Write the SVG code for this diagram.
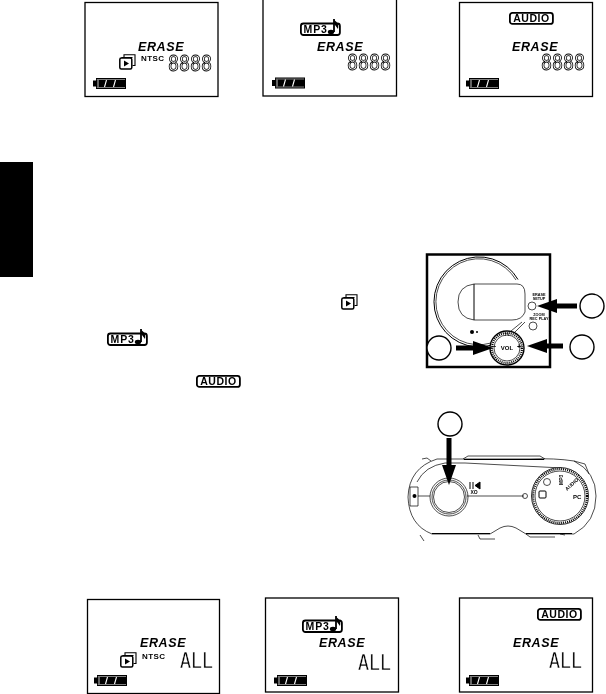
<svg xmlns="http://www.w3.org/2000/svg" width="606" height="694" viewBox="0 0 606 694">
<style>
.lcd{fill:#fff;stroke:#000;stroke-width:1.3}
.er{font:italic bold 12.5px "Liberation Sans",Arial,sans-serif;letter-spacing:.6px}
.nt{font:bold 8px "Liberation Sans",Arial,sans-serif;letter-spacing:.4px}
.seg{font:20.500px "DejaVu Sans Mono",monospace;fill:#fff;stroke:#000;stroke-width:.9}
.seg2{font:21px "DejaVu Sans Mono",monospace;fill:#000;stroke:#fff;stroke-width:.3}
.t{font:bold 3.800px "Liberation Sans",Arial,sans-serif}
.l{fill:none;stroke:#000;stroke-width:.7}
.m{fill:none;stroke:#000;stroke-width:1.2}
.c{fill:#fff;stroke:#000;stroke-width:1.4}
.d{fill:none;stroke:#000;stroke-width:2.2;stroke-dasharray:1 1}
</style>
<defs>
<filter id="gray" filterUnits="userSpaceOnUse" x="0" y="0" width="606" height="694" color-interpolation-filters="sRGB"><feColorMatrix type="saturate" values="0"/></filter>
<g id="bat"><path d="M3 1H33V12H3V9.500H0V3.500H3Z" fill="#000"/><path d="M3.800 2.200H32V2.700H3.800ZM3.800 10.300H32V10.800H3.800Z" fill="#fff"/><path d="M13.500 3L11.500 10M22.500 3L20.500 10" stroke="#fff" stroke-width="1.100"/><path d="M5 3V10" stroke="#fff" stroke-width=".8"/></g>
<g id="play"><path d="M5 3V.8H16V11.500H13.500M2.500 3.500H13.500" fill="none" stroke="#000" stroke-width="1.100"/><rect x=".8" y="4" width="12" height="11" rx="1.500" fill="#fff" stroke="#000" stroke-width="1.500"/><path d="M5 6.500L10 9.500L5 12.500Z" fill="#000"/></g>
<g id="mp3"><rect x=".9" y="4.500" width="39" height="11.500" rx="2.500" fill="#fff" stroke="#000" stroke-width="1.800"/><text x="3.500" y="13.800" style="font:bold 10.500px 'Liberation Sans',Arial,sans-serif;letter-spacing:.9px">MP3</text><path d="M34 0V13" stroke="#000" stroke-width="1.800"/><ellipse cx="31" cy="13" rx="3.200" ry="2.200" fill="#000"/><path d="M34 1C37 3 39 5 38 10L35 6Z" fill="#000"/></g>
<g id="aud"><rect x=".9" y=".9" width="43" height="11" rx="2.500" fill="#fff" stroke="#000" stroke-width="1.800"/><text x="22.400" y="10.300" text-anchor="middle" style="font:bold 10.500px 'Liberation Sans',Arial,sans-serif;letter-spacing:.5px">AUDIO</text></g>
<marker id="ah" viewBox="0 0 20 14" refX="10" refY="7" markerWidth="4" markerHeight="2.800" orient="auto"><path d="M0 0L20 7L0 14Z" fill="#000"/></marker>
</defs>
<g id="page" filter="url(#gray)">
<rect x="0" y="0" width="606" height="694" fill="#fff"/>
<rect id="sidebar" x="0" y="162" width="33" height="115" fill="#000"/>

<g id="lcd-top-1"><rect class="lcd" x="85" y="2.500" width="133" height="94"/><text class="er" x="138" y="50.500">ERASE</text><text class="nt" x="141" y="61">NTSC</text><text class="seg" x="168" y="70.500" textLength="44" lengthAdjust="spacingAndGlyphs">8888</text><use href="#play" x="119" y="54"/><use href="#bat" x="93" y="77"/></g>
<g id="lcd-top-2"><rect class="lcd" x="263" y="-1" width="133.500" height="97"/><use href="#mp3" x="300" y="19"/><text class="er" x="317" y="50.500">ERASE</text><text class="seg" x="347" y="70" textLength="44" lengthAdjust="spacingAndGlyphs">8888</text><use href="#bat" x="272" y="76.500"/></g>
<g id="lcd-top-3"><rect class="lcd" x="459.500" y="2.500" width="133" height="94"/><use href="#aud" x="509" y="12"/><text class="er" x="512" y="50.500">ERASE</text><text class="seg" x="541" y="70" textLength="44" lengthAdjust="spacingAndGlyphs">8888</text><use href="#bat" x="466" y="77"/></g>

<use id="icon-play" href="#play" x="341" y="294"/>
<use id="icon-mp3" href="#mp3" x="107" y="329"/>
<use id="icon-audio" href="#aud" x="196" y="375"/>

<g id="device-top">
<rect x="427" y="254.500" width="123" height="112.500" fill="#fff" stroke="#000" stroke-width="2.500"/>
<path d="M492 345A45 45 0 1 1 518 279.500" fill="none" stroke="#000" stroke-width="1"/>
<path class="l" d="M491 343A43 43 0 1 1 516 280"/>
<path class="l" d="M474 284H517Q525 284 525 294V312Q522 320 512 320H474Q458 318 458 302Q458 286 474 284Z"/>
<path d="M474 284V320" stroke="#000" stroke-width="1"/>
<path class="l" d="M511 331L522 322M514 333L525 322"/>
<circle class="l" cx="532" cy="306" r="4"/><circle class="l" cx="533" cy="326" r="4"/>
<text class="t" text-anchor="middle"><tspan x="539" y="295.500">ERASE</tspan><tspan x="539" y="299.500">SETUP</tspan></text>
<text class="t" text-anchor="middle"><tspan x="539" y="315.500">ZOOM</tspan><tspan x="539" y="319.500">REC PLAY</tspan></text>
<circle cx="472" cy="332" r="2" fill="#000"/><circle cx="477" cy="332" r="1" fill="#000"/>
<circle cx="507" cy="348" r="17" fill="#fff" stroke="#000" stroke-width="1.400"/><circle class="d" cx="507" cy="348" r="15"/><circle class="l" cx="507" cy="348" r="13"/>
<text x="507" y="350" text-anchor="middle" style="font:bold 6px 'Liberation Sans',Arial,sans-serif">VOL</text>
<text class="t" x="507" y="336" text-anchor="middle">TV</text>
<text x="494" y="349" text-anchor="middle" style="font:bold 7px 'Liberation Sans',Arial,sans-serif">−</text><text x="519" y="349" text-anchor="middle" style="font:bold 7px 'Liberation Sans',Arial,sans-serif">+</text>
</g>

<g id="device-bottom">
<path class="l" d="M530 459H437Q409 468 408 497Q409 525 432 534H490L500 528Q508 524 516 528L526 534H574Q596 522 596 496Q596 472 574 461Q555 458 530 459Z" stroke-width="1"/>
<path class="m" d="M464 459.500H544M432 533.500H490M526 533.500H572"/>
<path class="l" d="M417 482Q425 466 445 463L465 463M465 463L562 468"/>
<path class="l" d="M422 459L427 458L431 461M463 459L468 456H540L545 459M574 461L585 464L589 474"/>
<path class="l" d="M420 535L424 541M478 535L480 539H495M526 534L530 537H555M560 534L565 535"/>
<path class="l" d="M410 487H418V506H410Z"/><circle cx="414.500" cy="496" r="2" fill="#000"/>
<path class="l" d="M418 496H430M467 496H524"/>
<circle class="l" cx="449" cy="497" r="19"/><circle class="l" cx="449" cy="497" r="17"/><circle class="l" cx="449" cy="497" r="15.500"/>
<path d="M470 482V489M473 482V489M480 482V489L475 485.500Z" fill="#000" stroke="#000" stroke-width="1"/>
<text x="474" y="494" text-anchor="middle" style="font:bold 5px 'Liberation Sans',Arial,sans-serif">XO</text>
<circle class="l" cx="525" cy="496" r="2.500"/>
<circle cx="560" cy="496" r="28.500" fill="#fff" stroke="#000" stroke-width=".8"/><circle class="d" cx="560" cy="496" r="27"/><circle class="l" cx="560" cy="496" r="25"/>
<rect x="539" y="491" width="7" height="7" rx="1" fill="#fff" stroke="#000"/>
<circle class="l" cx="547" cy="482" r="3.500"/>
<text transform="translate(563 485) rotate(-90)" style="font:bold 5px 'Liberation Sans',Arial,sans-serif">MP3</text>
<text transform="translate(567 491) rotate(-42)" style="font:bold 5px 'Liberation Sans',Arial,sans-serif">AUDIO</text>
<text x="573" y="499" style="font:bold 6px 'Liberation Sans',Arial,sans-serif">PC</text>
</g>

<g id="callouts">
<circle class="c" cx="592" cy="306" r="12"/><circle class="c" cx="439" cy="348" r="12"/><circle class="c" cx="582" cy="347" r="12"/><circle class="c" cx="450" cy="424" r="12"/>
</g>

<g id="connectors" fill="none" stroke="#000" stroke-width="5" marker-end="url(#ah)">
<path d="M577 306H547"/>
<path d="M456 348H483"/>
<path d="M563 346H537"/>
<path d="M449 438V475"/>
</g>

<g id="lcd-bottom-1"><rect class="lcd" x="87.500" y="599.500" width="132" height="94"/><text class="er" x="140" y="647">ERASE</text><text class="nt" x="142" y="659">NTSC</text><text class="seg2" x="180" y="668" textLength="33" lengthAdjust="spacingAndGlyphs">ALL</text><use href="#play" x="120" y="652"/><use href="#bat" x="94" y="674"/></g>
<g id="lcd-bottom-2"><rect class="lcd" x="265.500" y="598" width="133" height="94"/><use href="#mp3" x="302" y="616"/><text class="er" x="319" y="647">ERASE</text><text class="seg2" x="358" y="670" textLength="33" lengthAdjust="spacingAndGlyphs">ALL</text><use href="#bat" x="274" y="674"/></g>
<g id="lcd-bottom-3"><rect class="lcd" x="459.500" y="598" width="133" height="94"/><use href="#aud" x="537" y="608"/><text class="er" x="513" y="647">ERASE</text><text class="seg2" x="549" y="668" textLength="33" lengthAdjust="spacingAndGlyphs">ALL</text><use href="#bat" x="466" y="674"/></g>
</g>
</svg>
